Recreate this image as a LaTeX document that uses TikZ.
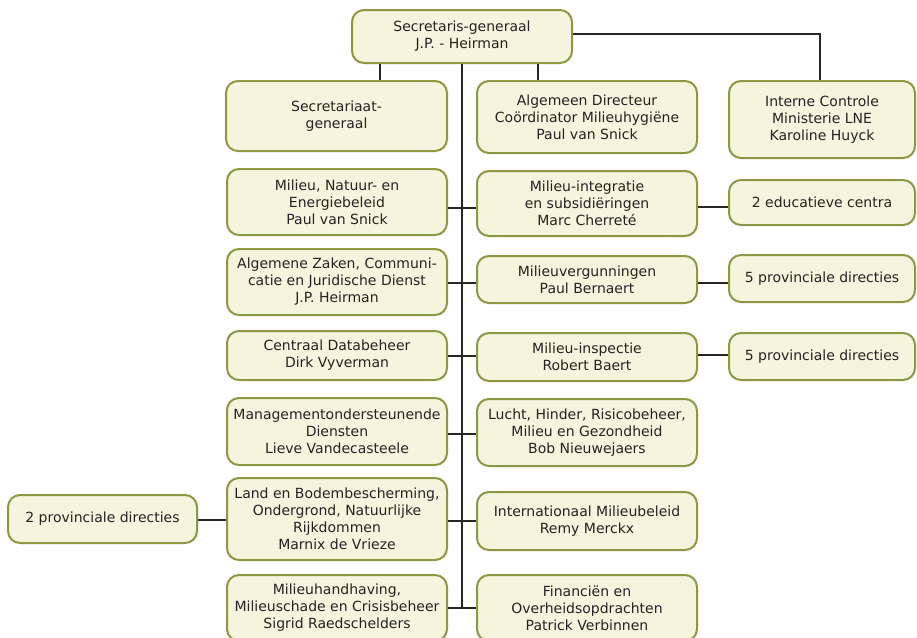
\documentclass[tikz,border=0pt]{standalone}
\usepackage{fontspec}
\setmainfont{DejaVu Sans}
\definecolor{boxfill}{RGB}{245,245,222}
\definecolor{boxline}{RGB}{140,152,68}
\definecolor{txt}{RGB}{35,35,35}
\begin{document}
\begin{tikzpicture}[x=1pt,y=-1pt,
  orgbox/.style={draw=boxline, fill=boxfill, line width=2pt, rounded corners=12pt,
    inner sep=0pt, align=center, text=txt, font=\fontsize{14}{17}\selectfont},
  link/.style={draw=black!85, line width=1.2pt}]
\useasboundingbox (0,0) rectangle (917,637);
\clip (0,0) rectangle (917,637);
\fill[white] (0,0) rectangle (917,637);
% top
\node[orgbox, minimum width=220pt, minimum height=53pt] (top) at (462,36.5) {Secretaris-generaal\\J.P. - Heirman};
\node[orgbox, minimum width=221pt, minimum height=70pt] (sec) at (336.5,116) {Secretariaat-\\generaal};
\node[orgbox, minimum width=220pt, minimum height=72pt] (alg) at (587,117) {Algemeen Directeur\\Coördinator Milieuhygiëne\\Paul van Snick};
\node[orgbox, minimum width=186pt, minimum height=77pt] (int) at (822,119.5) {Interne Controle\\Ministerie LNE\\Karoline Huyck};
% left column
\node[orgbox, minimum width=220pt, minimum height=66pt] (mn) at (337,202) {Milieu, Natuur- en\\Energiebeleid\\Paul van Snick};
\node[orgbox, minimum width=220pt, minimum height=66pt] (az) at (337,282) {Algemene Zaken, Communi-\\catie en Juridische Dienst\\J.P. Heirman};
\node[orgbox, minimum width=220pt, minimum height=49pt] (cd) at (337,355.5) {Centraal Databeheer\\Dirk Vyverman};
\node[orgbox, minimum width=220pt, minimum height=67pt] (mo) at (337,431.5) {Managementondersteunende\\Diensten\\Lieve Vandecasteele};
\node[orgbox, minimum width=220pt, minimum height=82pt] (lb) at (337,519) {Land en Bodembescherming,\\Ondergrond, Natuurlijke\\Rijkdommen\\Marnix de Vrieze};
\node[orgbox, minimum width=220pt, minimum height=66pt] (mh) at (337,608) {Milieuhandhaving,\\Milieuschade en Crisisbeheer\\Sigrid Raedschelders};
% middle column
\node[orgbox, minimum width=220pt, minimum height=65pt] (mi) at (587,203.5) {Milieu-integratie\\en subsidiëringen\\Marc Cherreté};
\node[orgbox, minimum width=220pt, minimum height=47pt] (mv) at (587,279.5) {Milieuvergunningen\\Paul Bernaert};
\node[orgbox, minimum width=220pt, minimum height=48pt] (mins) at (587,357) {Milieu-inspectie\\Robert Baert};
\node[orgbox, minimum width=220pt, minimum height=67pt] (lu) at (587,432.5) {Lucht, Hinder, Risicobeheer,\\Milieu en Gezondheid\\Bob Nieuwejaers};
\node[orgbox, minimum width=220pt, minimum height=58pt] (im) at (587,521) {Internationaal Milieubeleid\\Remy Merckx};
\node[orgbox, minimum width=220pt, minimum height=66pt] (fi) at (587,608) {Financiën en\\Overheidsopdrachten\\Patrick Verbinnen};
% right column
\node[orgbox, minimum width=186pt, minimum height=45pt] (ed) at (822,202.5) {2 educatieve centra};
\node[orgbox, minimum width=186pt, minimum height=47pt] (p1) at (822,278.5) {5 provinciale directies};
\node[orgbox, minimum width=186pt, minimum height=47pt] (p2) at (822,356.5) {5 provinciale directies};
% far left
\node[orgbox, minimum width=189pt, minimum height=48pt] (fl) at (102.5,519) {2 provinciale directies};
% connector coordinates
\coordinate (tr) at (820,34);
\coordinate (s1) at (380,0);
\coordinate (s2) at (538,0);
\coordinate (r1) at (462,208);
\coordinate (r2) at (462,283);
\coordinate (r3) at (462,356);
\coordinate (r4) at (462,434);
\coordinate (r5) at (462,521);
\coordinate (r6) at (462,608);
\coordinate (e1) at (712,207);
\coordinate (e2) at (712,283);
\coordinate (e3) at (712,355);
\coordinate (f1) at (212,520);
% connectors
\draw[link] (top.east |- tr) -- (tr) -- (tr |- int.north);
\draw[link] (s1 |- top.south) -- (s1 |- sec.north);
\draw[link] (s2 |- top.south) -- (s2 |- alg.north);
\draw[link] (top.south) -- (r6);
\draw[link] (mn.east |- r1) -- (mi.west |- r1);
\draw[link] (az.east |- r2) -- (mv.west |- r2);
\draw[link] (cd.east |- r3) -- (mins.west |- r3);
\draw[link] (mo.east |- r4) -- (lu.west |- r4);
\draw[link] (lb.east |- r5) -- (im.west |- r5);
\draw[link] (mh.east |- r6) -- (fi.west |- r6);
\draw[link] (mi.east |- e1) -- (ed.west |- e1);
\draw[link] (mv.east |- e2) -- (p1.west |- e2);
\draw[link] (mins.east |- e3) -- (p2.west |- e3);
\draw[link] (fl.east |- f1) -- (lb.west |- f1);
\end{tikzpicture}
\end{document}
